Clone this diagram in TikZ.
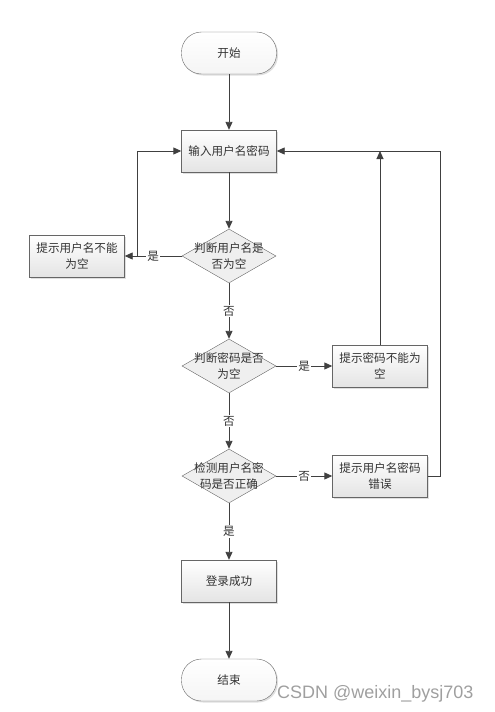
\documentclass[tikz,border=0pt]{standalone}
\usepackage{fontspec}
\newfontfamily\cjk{Noto Sans CJK SC}
\setsansfont{Liberation Sans}
\usetikzlibrary{arrows.meta,positioning,shapes.geometric,shadows,calc}
\definecolor{linegray}{HTML}{404040}
\definecolor{boxgray}{HTML}{E4E4E4}
\tikzset{
  proc/.style={draw=black!60, top color=white, bottom color=boxgray,
    minimum width=95pt, minimum height=42pt, inner sep=1pt,
    drop shadow={shadow xshift=1.5pt, shadow yshift=-1.5pt, opacity=0.25}},
  term/.style={proc, rounded corners=20pt, bottom color=white!92!gray},
  decision/.style={diamond, draw=black!60, fill=boxgray!60, minimum width=94pt,
    minimum height=54pt, inner sep=0pt},
  flow/.style={draw=linegray, line width=0.9pt, -{Triangle[length=8pt,width=7pt]}},
  tag/.style={fill=white, inner sep=1pt}
}

\begin{document}
\begin{tikzpicture}[x=1pt,y=-1pt,
  every node/.style={font=\cjk\fontsize{11.6}{16}\selectfont,align=center,text=black!80}]
  \useasboundingbox (0,0) rectangle (495,712);
  % main column
  \node[term] (start) at (229,53) {开始};
  \node[proc] (input) at (229,151) {输入用户名密码};
  \node[decision, label={center:判断用户名是\\否为空}] (d1) at (229,256) {};
  \node[decision, label={center:判断密码是否\\为空}] (d2) at (229,366) {};
  \node[decision, label={center:检测用户名密\\码是否正确}] (d3) at (229,476) {};
  \node[proc] (ok) at (229,581) {登录成功};
  \node[term] (end) at (229,680) {结束};
  % warnings
  \node[proc] (warn1) at (77,256) {提示用户名不能\\为空};
  \node[proc] (warn2) at (380,366) {提示密码不能为\\空};
  \node[proc] (warn3) at (380,476) {提示用户名密码\\错误};
  % connectors
  \draw[flow] (start) -- (input);
  \draw[flow] (input) -- (d1);
  \draw[flow] (d1.west) -- node[tag] {是} (warn1.east);
  \coordinate (fb1) at ($(warn1.east)!0.23!(d1.west)$);
  \draw[flow] (fb1) |- (input.west);
  \draw[flow] (d1.south) -- node[tag] {否} (d2.north);
  \draw[flow] (d2.east) -- node[tag] {是} (warn2.west);
  \draw[flow] (warn2.north) -- (warn2.north |- input.east);
  \draw[flow] (d2.south) -- node[tag] {否} (d3.north);
  \draw[flow] (d3.east) -- node[tag] {否} (warn3.west);
  \draw[flow] (warn3.east) -- ++(13,0) |- (input.east);
  \draw[flow] (d3.south) -- node[tag] {是} (ok.north);
  \draw[flow] (ok) -- (end);
  % watermark
  \node[font=\sffamily\fontsize{18}{20}\selectfont, text=gray!75, anchor=base west,
    inner sep=0pt] (mark) at (277,698) {CSDN @weixin\_bysj703};
\end{tikzpicture}
\end{document}
